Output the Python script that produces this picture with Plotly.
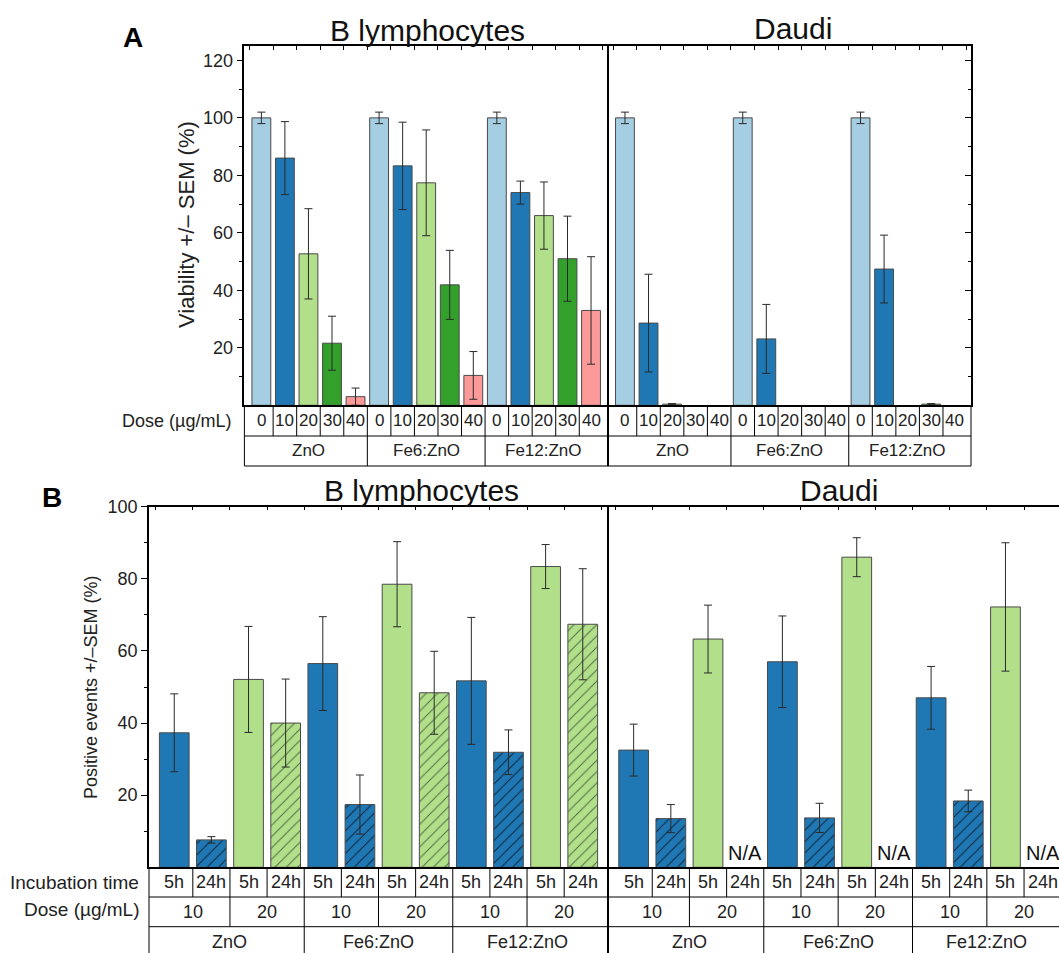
import plotly.graph_objects as go

# ---------------- data ----------------
groups = ["ZnO", "Fe6:ZnO", "Fe12:ZnO"]
dose_a = [0, 10, 20, 30, 40]
dose_a_labels = ["0", "10", "20", "30", "40"]

# Panel A: viability (%) +/- SEM
via_bly = [100, 86.0, 52.7, 21.6, 3.0, 100, 83.3, 77.4, 41.9, 10.4, 100, 74.0, 66.0, 51.0, 33.0]
via_bly_err = [2, 12.7, 15.7, 9.4, 3.0, 2, 15.2, 18.4, 12.0, 8.3, 2, 4.0, 11.7, 14.8, 18.7]
via_daudi = [100, 28.6, 0.4, None, None, 100, 23.1, None, None, None, 100, 47.4, None, 0.4, None]
via_daudi_err = [2, 17.0, 0.2, None, None, 2, 12.0, None, None, None, 2, 11.8, None, 0.2, None]

# Panel B: positive events (%) +/- SEM
times_b = ["5h", "24h"]
dose_b = [10, 20]
dose_b_labels = ["10", "20"]
pos_bly = [37.3, 7.6, 52.1, 40.0, 56.5, 17.4, 78.5, 48.4, 51.7, 31.9, 83.4, 67.4]
pos_bly_err = [10.8, 0.9, 14.7, 12.2, 13.0, 8.2, 11.8, 11.5, 17.6, 6.2, 6.1, 15.4]
pos_daudi = [32.5, 13.5, 63.3, None, 57.0, 13.7, 86.0, None, 47.0, 18.4, 72.2, None]
pos_daudi_err = [7.2, 3.9, 9.4, None, 12.7, 4.05, 5.4, None, 8.7, 3.0, 17.8, None]

ytick_a = [20, 40, 60, 80, 100, 120]
yminor_a = [10, 30, 50, 70, 90, 110]
ytick_b = [20, 40, 60, 80, 100]
yminor_b = [10, 30, 50, 70, 90]

# ---------------- styling / geometry ----------------
W, H = 1059, 953
FONT = "Liberation Sans, Arial, sans-serif"
dose_colors = {0: "#a6cee3", 10: "#1f78b4", 20: "#b2df8a", 30: "#33a02c", 40: "#fb9a99"}
hatch_colors = {10: "#0c2238", 20: "#4f6b42"}


def px(x):
    return x / W


def py(y):
    return 1 - y / H


A_top, A_bot, A_r1, A_r2 = 46, 405.3, 436, 466
A_x0, A_xm, A_x1 = 244.4, 608, 971
B_top, B_bot, B_r1, B_r2, B_r3 = 506.7, 867.3, 897, 926.7, 953
B_x0, B_xm, B_x1 = 149, 608, 1059

rA1 = [-0.72, 14.72]
rA2 = [-0.72, 14.69]
rB1 = [-0.68, 11.68]
rB2 = [-0.69, 11.44]

nA = len(groups) * len(dose_a)
xA = list(range(nA))
colA = [dose_colors[d] for g in groups for d in dose_a]
nB = len(groups) * len(dose_b) * len(times_b)
keysB = [(d, t) for g in groups for d in dose_b for t in times_b]

err_style = dict(type="data", visible=True, color="#2a2a2a", thickness=1, width=4)
line_style = dict(color="#4a4a4a", width=1)

fig = go.Figure()


def add_a(y, err, xa, ya):
    fig.add_trace(go.Bar(x=xA, y=y, xaxis=xa, yaxis=ya, width=0.8,
                         marker=dict(color=colA, line=line_style),
                         error_y=dict(array=err, **err_style), showlegend=False))


def add_b(y, err, xa, ya):
    # one trace per (dose, incubation time) so each gets its own fill / hatch
    for d in dose_b:
        for t in times_b:
            idx = [i for i, k in enumerate(keysB) if k == (d, t)]
            marker = dict(color=dose_colors[d], line=line_style)
            if t == "24h":
                marker["pattern"] = dict(shape="/", fgcolor=hatch_colors[d], fgopacity=1,
                                         fillmode="overlay", size=8, solidity=0.12)
            fig.add_trace(go.Bar(x=idx, y=[y[i] for i in idx], xaxis=xa, yaxis=ya, width=0.8,
                                 marker=marker,
                                 error_y=dict(array=[err[i] for i in idx], **err_style),
                                 showlegend=False))


add_a(via_bly, via_bly_err, "x", "y")
add_a(via_daudi, via_daudi_err, "x2", "y2")
add_b(pos_bly, pos_bly_err, "x3", "y3")
add_b(pos_daudi, pos_daudi_err, "x4", "y4")


def xaxis_cfg(dom, rng, n, anchor):
    return dict(domain=[px(dom[0]), px(dom[1])], range=rng, anchor=anchor, side="top",
                showline=True, linecolor="black", linewidth=1.5, mirror=True,
                ticks="inside", tickvals=[i - 0.5 for i in range(n + 1)], ticklen=4,
                tickcolor="black", tickwidth=1, showticklabels=False, automargin=False,
                showgrid=False, zeroline=False, fixedrange=True)


def yaxis_cfg(dom, rng, tv, mv, anchor, side, ticks, labels):
    return dict(domain=[py(dom[1]), py(dom[0])], range=rng, anchor=anchor, side=side,
                showline=True, linecolor="black", linewidth=1.5, automargin=False,
                ticks=ticks, tickvals=tv, ticklen=6, tickwidth=1, tickcolor="black",
                minor=dict(tickvals=mv, ticks=ticks, ticklen=3.5, tickcolor="black", tickwidth=1),
                showticklabels=labels, tickfont=dict(family=FONT, size=18, color="#222"),
                showgrid=False, zeroline=False, fixedrange=True)


shapes = []
ann = []


def hl(y, x0, x1, w=1):
    shapes.append(dict(type="line", xref="paper", yref="paper", x0=px(x0), x1=px(x1),
                       y0=py(y), y1=py(y), line=dict(color="black", width=w)))


def vl_paper(x, y0, y1, w=1):
    shapes.append(dict(type="line", xref="paper", yref="paper", x0=px(x), x1=px(x),
                       y0=py(y0), y1=py(y1), line=dict(color="black", width=w)))


def vl_data(xref, x, y0, y1, w=1):
    shapes.append(dict(type="line", xref=xref, yref="paper", x0=x, x1=x,
                       y0=py(y0), y1=py(y1), line=dict(color="black", width=w)))


def txt(xref, x, y, s, size=18, color="#222", **kw):
    kw.setdefault("xanchor", "center")
    ann.append(dict(xref=xref, yref="paper", x=x, y=py(y), text=s, showarrow=False,
                    yanchor="middle", font=dict(family=FONT, size=size, color=color), **kw))


# ---- Panel A table ----
hl(A_r1, A_x0, A_x1)
hl(A_r2, A_x0, A_x1)
vl_paper(A_x0, A_bot, A_r2)
vl_paper(A_x1, A_bot, A_r2)
for xr in ["x", "x2"]:
    for i in range(nA - 1):
        if (i + 1) % len(dose_a) == 0:
            vl_data(xr, i + 0.5, A_bot, A_r2)
        else:
            vl_data(xr, i + 0.5, A_bot, A_r1)
    for i in range(nA):
        txt(xr, i, (A_bot + A_r1) / 2, dose_a_labels[i % len(dose_a)], size=17)
    for g, name in enumerate(groups):
        txt(xr, g * len(dose_a) + (len(dose_a) - 1) / 2, (A_r1 + A_r2) / 2, name, size=17)
vl_paper(A_xm, A_top, A_r2, 2)
txt("paper", px(233), 421, "Dose (\u00b5g/mL)", size=18, xanchor="right")

# ---- Panel B table ----
hl(B_r1, B_x0, B_x1)
hl(B_r2, B_x0, B_x1)
vl_paper(B_x0, B_bot, B_r3)
per_dose = len(times_b)
per_group = len(times_b) * len(dose_b)
for xr in ["x3", "x4"]:
    for i in range(nB - 1):
        if (i + 1) % per_group == 0:
            vl_data(xr, i + 0.5, B_bot, B_r3)
        elif (i + 1) % per_dose == 0:
            vl_data(xr, i + 0.5, B_bot, B_r2)
        else:
            vl_data(xr, i + 0.5, B_bot, B_r1)
    for i in range(nB):
        txt(xr, i, (B_bot + B_r1) / 2, times_b[i % per_dose], size=18)
    for k in range(nB // per_dose):
        txt(xr, k * per_dose + (per_dose - 1) / 2, (B_r1 + B_r2) / 2,
            dose_b_labels[k % len(dose_b)], size=18)
    for g, name in enumerate(groups):
        txt(xr, g * per_group + (per_group - 1) / 2, 942, name, size=18)
vl_paper(B_xm, B_top, B_r3, 2)
txt("paper", px(141), 882, "Incubation time", size=19, xanchor="right")
txt("paper", px(141), 909, "Dose (\u00b5g/mL)", size=19, xanchor="right")

# N/A labels for missing Daudi 24h bars
for i, v in enumerate(pos_daudi):
    if v is None:
        ann.append(dict(xref="x4", yref="y4", x=i, y=0, yanchor="bottom", yshift=1,
                        text="N/A", showarrow=False, font=dict(family=FONT, size=20, color="#111")))

# titles & panel letters & axis titles
txt("paper", px(427), 30, "B lymphocytes", size=30, color="#111")
txt("paper", px(793), 28, "Daudi", size=30, color="#111")
txt("paper", px(421), 490, "B lymphocytes", size=30, color="#111")
txt("paper", px(839), 490, "Daudi", size=30, color="#111")
txt("paper", px(133), 38, "<b>A</b>", size=28, color="#000")
txt("paper", px(52), 497, "<b>B</b>", size=28, color="#000")
txt("paper", px(186), 225, "Viability +/\u2013 SEM (%)", size=22, textangle=-90)
txt("paper", px(91), 687, "Positive events +/\u2013SEM (%)", size=18, textangle=-90)

fig.update_layout(
    width=W, height=H, autosize=False,
    margin=dict(l=0, r=0, t=0, b=0, pad=0),
    paper_bgcolor="white", plot_bgcolor="white",
    barmode="overlay",
    xaxis=xaxis_cfg((A_x0, A_xm), rA1, nA, "y"),
    xaxis2=xaxis_cfg((A_xm, A_x1), rA2, nA, "y2"),
    xaxis3=xaxis_cfg((B_x0, B_xm), rB1, nB, "y3"),
    xaxis4=xaxis_cfg((B_xm, B_x1), rB2, nB, "y4"),
    yaxis=yaxis_cfg((A_top, A_bot), [0, 125], ytick_a, yminor_a, "x", "left", "outside", True),
    yaxis2=yaxis_cfg((A_top, A_bot), [0, 125], ytick_a, yminor_a, "x2", "right", "inside", False),
    yaxis3=yaxis_cfg((B_top, B_bot), [0, 100], ytick_b, yminor_b, "x3", "left", "outside", True),
    yaxis4=dict(domain=[py(B_bot), py(B_top)], range=[0, 100], anchor="x4", visible=False,
                fixedrange=True, automargin=False),
    shapes=shapes,
    annotations=ann,
    font=dict(family=FONT, color="#222"),
)

fig.write_html("out.html", config={"displayModeBar": False},
               post_script="document.body.style.margin='0';document.body.style.overflow='hidden';")
